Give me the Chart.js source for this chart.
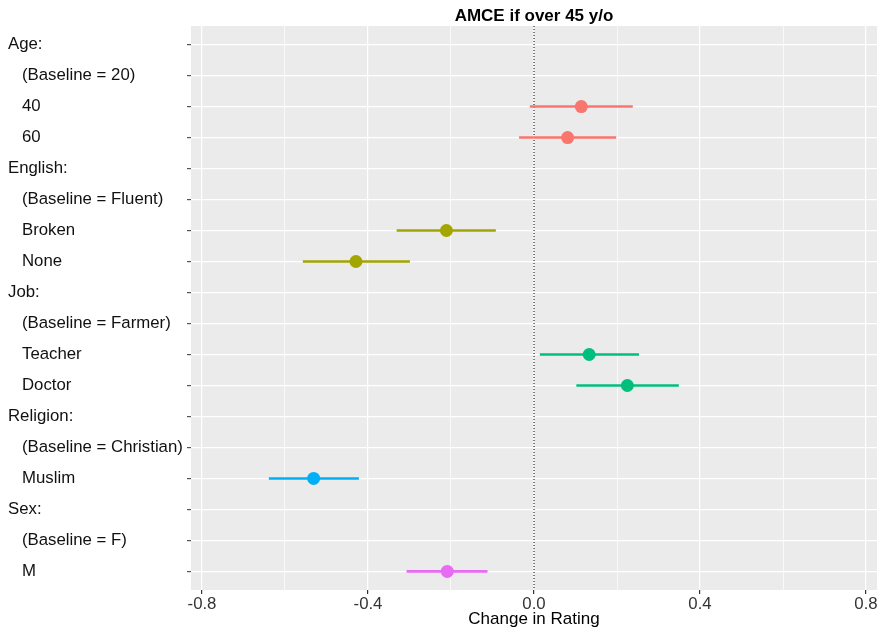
<!DOCTYPE html>
<html lang="en">
<head>
<meta charset="UTF-8">
<title>AMCE if over 45 y/o</title>
<script src="https://cdn.jsdelivr.net/npm/chart.js"></script>
<style>
  body { margin: 0; background: #fff; }
  canvas { display: block; }
</style>
</head>
<body>
<canvas id="amce" width="877" height="632"></canvas>
<script>
// rows of the plot, top to bottom
const rowLabels = ['Age:', '(Baseline = 20)', '40', '60',
  'English:', '(Baseline = Fluent)', 'Broken', 'None',
  'Job:', '(Baseline = Farmer)', 'Teacher', 'Doctor',
  'Religion:', '(Baseline = Christian)', 'Muslim',
  'Sex:', '(Baseline = F)', 'M'];
const headerRows = ['Age:', 'English:', 'Job:', 'Religion:', 'Sex:'];

// estimated effects
const estRows   = ['40', '60', 'Broken', 'None', 'Teacher', 'Doctor', 'Muslim', 'M'];
const estGroups = ['Age', 'Age', 'English', 'English', 'Job', 'Job', 'Religion', 'Sex'];
const estimates = [0.114, 0.081, -0.211, -0.429, 0.133, 0.225, -0.531, -0.209];
const lowerCI   = [-0.010, -0.036, -0.331, -0.557, 0.014, 0.102, -0.639, -0.307];
const upperCI   = [0.238, 0.198, -0.092, -0.299, 0.253, 0.349, -0.422, -0.112];

const groupColors = {Age: '#F8766D', English: '#A3A500', Job: '#00BF7D', Religion: '#00B0F6', Sex: '#E76BF3'};

const xTicks = [-0.8, -0.6, -0.4, -0.2, 0, 0.2, 0.4, 0.6, 0.8];
const xMajor = [-0.8, -0.4, 0, 0.4, 0.8];

const FONT = '"Liberation Sans", Arial, Helvetica, sans-serif';
const rowIdx = (name) => rowLabels.indexOf(name);
const isMajor = (v) => xMajor.some(m => Math.abs(m - v) < 1e-9);

const datasets = [];
// points on top
Object.keys(groupColors).forEach((g) => {
  const pts = [];
  estRows.forEach((r, i) => { if (estGroups[i] === g) pts.push({x: estimates[i], y: rowIdx(r)}); });
  datasets.push({
    data: pts, order: 0, showLine: false,
    pointRadius: 6.5, pointHoverRadius: 6.5,
    pointBackgroundColor: groupColors[g], pointBorderWidth: 0, borderColor: groupColors[g]
  });
});
// confidence intervals
estRows.forEach((r, i) => {
  datasets.push({
    data: [{x: lowerCI[i], y: rowIdx(r)}, {x: upperCI[i], y: rowIdx(r)}],
    order: 1, showLine: true, pointRadius: 0, borderWidth: 2.6,
    borderColor: groupColors[estGroups[i]], borderCapStyle: 'butt'
  });
});
// dotted zero line
datasets.push({
  data: [{x: 0, y: -0.6}, {x: 0, y: rowLabels.length - 0.4}],
  order: 2, showLine: true, pointRadius: 0, borderWidth: 1,
  borderColor: '#000', borderDash: [1, 2]
});

const panelBg = {
  id: 'panelBg',
  beforeDraw(chart) {
    const {ctx, chartArea: a} = chart;
    ctx.save();
    ctx.fillStyle = '#EBEBEB';
    ctx.fillRect(a.left, a.top, a.right - a.left, a.bottom - a.top);
    ctx.restore();
  }
};

const panelTitle = {
  id: 'panelTitle',
  afterDraw(chart) {
    const {ctx, chartArea: a} = chart;
    ctx.save();
    ctx.font = 'bold 17px ' + FONT;
    ctx.fillStyle = '#000';
    ctx.textAlign = 'center';
    ctx.textBaseline = 'middle';
    ctx.fillText('AMCE if over 45 y/o', (a.left + a.right) / 2, 16);
    ctx.restore();
  }
};

new Chart(document.getElementById('amce'), {
  type: 'scatter',
  data: {datasets},
  plugins: [panelBg, panelTitle],
  options: {
    responsive: false,
    animation: false,
    events: [],
    layout: {autoPadding: false, padding: {left: 8, right: 0, top: 26, bottom: 2}},
    plugins: {legend: {display: false}, tooltip: {enabled: false}},
    scales: {
      x: {
        type: 'linear', min: -0.8265, max: 0.8265,
        afterBuildTicks: (s) => { s.ticks = xTicks.map(v => ({value: v})); },
        afterFit: (s) => { s.height = 40; s.paddingRight = 0; },
        border: {display: false},
        grid: {
          color: '#fff',
          lineWidth: (c) => isMajor(c.tick.value) ? 1.2 : 0.7,
          tickColor: (c) => isMajor(c.tick.value) ? '#333' : 'rgba(0,0,0,0)',
          tickLength: 4
        },
        ticks: {
          color: '#333', padding: 0, maxRotation: 0, autoSkip: false,
          font: {family: FONT, size: 16.8},
          callback: (v) => isMajor(v) ? (Math.abs(v) < 1e-9 ? '0.0' : v.toFixed(1)) : ''
        },
        title: {
          display: true, text: 'Change in Rating', color: '#000',
          font: {family: FONT, size: 17}, padding: {top: 0, bottom: 0}
        }
      },
      y: {
        type: 'linear', reverse: true, min: -0.6, max: rowLabels.length - 0.4,
        afterBuildTicks: (s) => { s.ticks = rowLabels.map((_, i) => ({value: i})); },
        afterFit: (s) => { s.width = 183; },
        border: {display: false},
        grid: {color: '#fff', lineWidth: 1.2, tickColor: '#555', tickLength: 4},
        ticks: {
          color: '#111', crossAlign: 'far', autoSkip: false,
          font: {family: FONT, size: 16.8},
          callback: (v) => {
            const t = rowLabels[v];
            return headerRows.includes(t) ? t : '\u00a0\u00a0\u00a0' + t;
          }
        }
      }
    }
  }
});
</script>
</body>
</html>
